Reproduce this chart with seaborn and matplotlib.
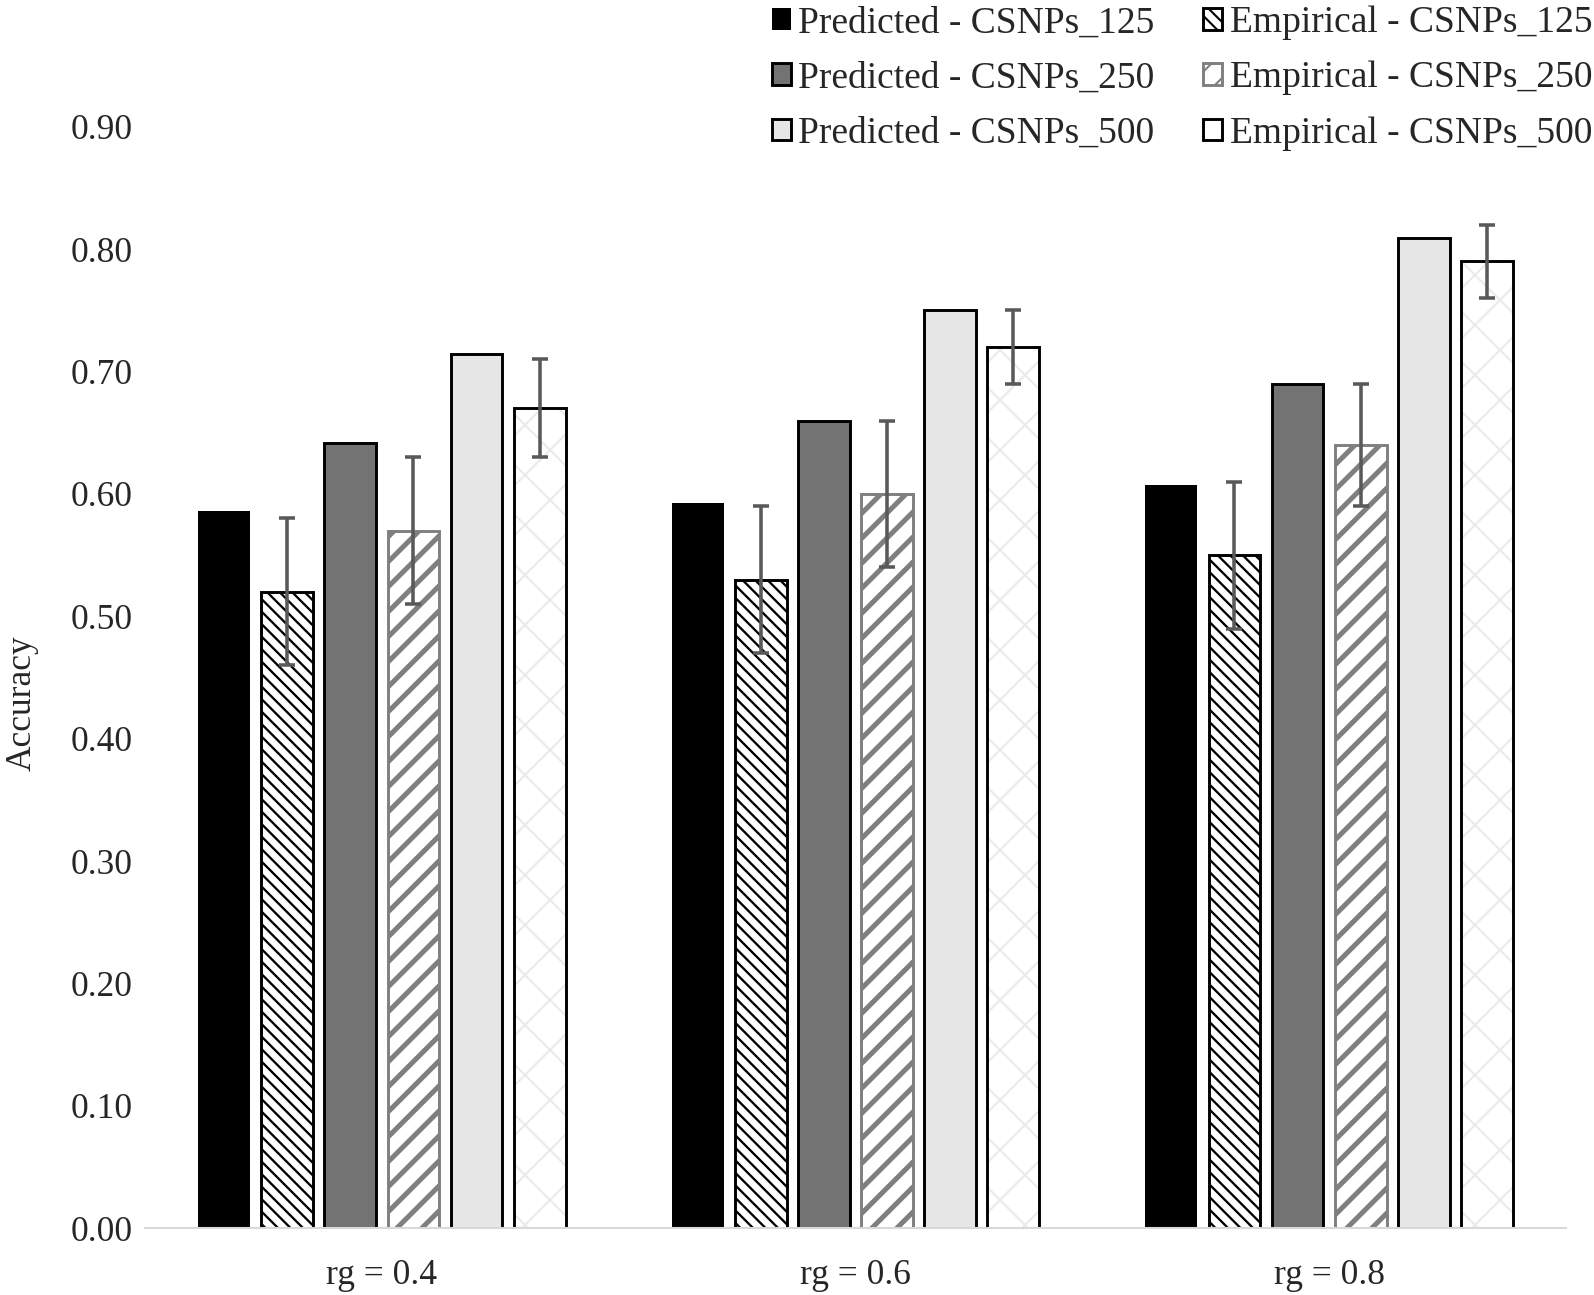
import matplotlib.pyplot as plt
import pandas as pd
import seaborn as sns
from matplotlib.patches import Rectangle

# values
groups = ["rg = 0.4", "rg = 0.6", "rg = 0.8"]
series = ["Predicted - CSNPs_125", "Empirical - CSNPs_125",
          "Predicted - CSNPs_250", "Empirical - CSNPs_250",
          "Predicted - CSNPs_500", "Empirical - CSNPs_500"]

pred_125 = [0.586, 0.593, 0.607]
pred_250 = [0.642, 0.660, 0.690]
pred_500 = [0.714, 0.750, 0.809]
emp_125 = [0.52, 0.53, 0.55]
emp_250 = [0.57, 0.60, 0.64]
emp_500 = [0.67, 0.72, 0.79]
# error bar ends for the empirical series
emp_125_lo = [0.46, 0.47, 0.49]
emp_125_hi = [0.58, 0.59, 0.61]
emp_250_lo = [0.51, 0.54, 0.59]
emp_250_hi = [0.63, 0.66, 0.69]
emp_500_lo = [0.63, 0.69, 0.76]
emp_500_hi = [0.71, 0.75, 0.82]

values = [pred_125, emp_125, pred_250, emp_250, pred_500, emp_500]
rows = []
for s, vals in zip(series, values):
    for g, v in zip(groups, vals):
        rows.append({"group": g, "series": s, "acc": v})
df = pd.DataFrame(rows)

# facecolor, edgecolor, hatch, hatch linewidth
styles = {
    "Predicted - CSNPs_125": ("#000000", "#000000", None, 1.0),
    "Empirical - CSNPs_125": ("#ffffff", "#000000", "\\" * 4, 1.1),
    "Predicted - CSNPs_250": ("#737373", "#000000", None, 1.0),
    "Empirical - CSNPs_250": ("#ffffff", "#7f7f7f", "//", 2.4),
    "Predicted - CSNPs_500": ("#e6e6e6", "#000000", None, 1.0),
    "Empirical - CSNPs_500": ("#ffffff", "#ebebeb", "x", 1.0),
}
palette = {s: styles[s][0] for s in series}

sns.set_theme(style="white")
plt.rcParams["font.family"] = ["Liberation Serif", "DejaVu Serif"]

fig = plt.figure(figsize=(1594 / 150, 1295 / 150), dpi=150)
ax = fig.add_axes([0.091, 0.0517, 0.8914, 0.8503])

sns.barplot(data=df, x="group", y="acc", hue="series", hue_order=series,
            palette=palette, width=0.8, gap=0.18, errorbar=None,
            legend=False, ax=ax, saturation=1)

for s, cont in zip(series, ax.containers):
    fc, ec, hatch, hlw = styles[s]
    for p in cont:
        p.set_facecolor(fc)
        p.set_edgecolor(ec)
        p.set_linewidth(1.4 if s != "Predicted - CSNPs_125" else 0)
        if hatch:
            p.set_hatch(hatch)
            if hasattr(p, "set_hatch_linewidth"):
                p.set_hatch_linewidth(hlw)
            p._hatch_linewidth = hlw
        if s == "Empirical - CSNPs_500":
            ax.add_patch(Rectangle(p.get_xy(), p.get_width(), p.get_height(),
                                   fill=False, ec="black", lw=1.4, zorder=p.get_zorder() + 0.1))

err = {
    "Empirical - CSNPs_125": (emp_125, emp_125_lo, emp_125_hi),
    "Empirical - CSNPs_250": (emp_250, emp_250_lo, emp_250_hi),
    "Empirical - CSNPs_500": (emp_500, emp_500_lo, emp_500_hi),
}
for s, cont in zip(series, ax.containers):
    if s not in err:
        continue
    mid, lo, hi = err[s]
    xs = [p.get_x() + p.get_width() / 2 for p in cont]
    ax.errorbar(xs, mid, yerr=[[m - l for m, l in zip(mid, lo)], [h - m for m, h in zip(mid, hi)]],
                fmt="none", ecolor="#595959", elinewidth=1.7, capsize=4, capthick=1.7, zorder=5)

ax.set_xlim(-0.5, 2.5)
ax.set_ylim(0, 0.9)
ax.set_yticks([i / 10 for i in range(10)])
ax.set_yticklabels([f"{i / 10:.2f}" for i in range(10)])
ax.tick_params(axis="y", length=0, pad=6, labelsize=17)
ax.tick_params(axis="x", length=0, pad=15, labelsize=17)
ax.set_xlabel("")
ax.set_ylabel("Accuracy", fontsize=17)
ax.yaxis.set_label_coords(-0.075, 0.477)
for side in ["top", "right", "left"]:
    ax.spines[side].set_visible(False)
ax.spines["bottom"].set_color("#d9d9d9")
ax.spines["bottom"].set_linewidth(1.0)

h = list(ax.containers)
handles = [h[0][0], h[2][0], h[4][0], h[1][0], h[3][0],
           Rectangle((0, 0), 1, 1, fc="white", ec="black", lw=1.4)]
labels = [series[0], series[2], series[4], series[1], series[3], series[5]]
fig.legend(handles, labels, ncol=2, loc="upper right", bbox_to_anchor=(1.0, 0.997),
           frameon=False, fontsize=18, handlelength=0.5, handleheight=0.5,
           handletextpad=0.2, labelspacing=0.55, columnspacing=1.3, borderpad=0.05,
           borderaxespad=0)

fig.savefig("out.png", dpi=150)
